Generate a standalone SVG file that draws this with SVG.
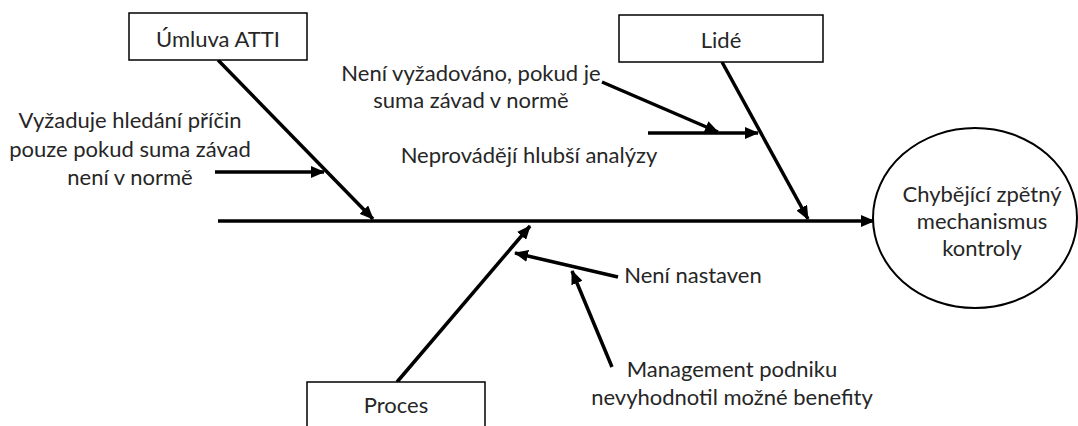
<svg xmlns="http://www.w3.org/2000/svg" width="1078" height="426" viewBox="0 0 1078 426">
<defs>
<style>
text{font-family:Lato,"Liberation Sans",sans-serif;font-size:22px;fill:#262626;text-anchor:middle}
.box{fill:#fff;stroke:#000;stroke-width:1.5}
.ln{stroke:#000;stroke-width:3.5;fill:none;marker-end:url(#ah)}
</style>
<marker id="ah" markerUnits="userSpaceOnUse" markerWidth="14" markerHeight="12" refX="13" refY="6" orient="auto">
<path d="M0,0 L14,6 L0,12 Z" fill="#000"/>
</marker>
</defs>
<rect width="1078" height="426" fill="#fff"/>
<g id="connectors">
<line class="ln" x1="218" y1="221" x2="874" y2="221"/>
<line class="ln" x1="218" y1="60" x2="373" y2="219"/>
<line class="ln" x1="722" y1="62" x2="808" y2="219"/>
<line class="ln" x1="397" y1="382" x2="530" y2="226"/>
<line class="ln" x1="215" y1="172" x2="324" y2="172"/>
<line class="ln" x1="602" y1="82" x2="718" y2="132"/>
<line class="ln" x1="648" y1="133" x2="758" y2="133"/>
<line class="ln" x1="618" y1="277" x2="515" y2="253"/>
<line class="ln" x1="612" y1="367" x2="572" y2="271"/>
</g>
<g id="umluva">
<rect class="box" x="129" y="13" width="178" height="47"/>
<text x="218" y="47">Úmluva ATTI</text>
</g>
<g id="lide">
<rect class="box" x="619" y="15" width="204" height="47"/>
<text x="721" y="48">Lidé</text>
</g>
<g id="proces">
<rect class="box" x="307" y="382" width="178" height="50"/>
<text x="396" y="413">Proces</text>
</g>
<g id="effect">
<ellipse cx="975" cy="218" rx="102" ry="90" fill="#fff" stroke="#000" stroke-width="2"/>
<text x="982" y="202">Chybějící zpětný</text>
<text x="982" y="229">mechanismus</text>
<text x="982" y="256">kontroly</text>
</g>
<g id="cause-vyzaduje">
<text x="130" y="128">Vyžaduje hledání příčin</text>
<text x="130" y="157">pouze pokud suma závad</text>
<text x="130" y="185">není v normě</text>
</g>
<g id="cause-neni-vyzadovano">
<text x="471" y="81">Není vyžadováno, pokud je</text>
<text x="471" y="108">suma závad v normě</text>
</g>
<g id="cause-neprovadeji">
<text x="529" y="163">Neprovádějí hlubší analýzy</text>
</g>
<g id="cause-neni-nastaven">
<text x="693" y="283">Není nastaven</text>
</g>
<g id="cause-management">
<text x="732" y="377">Management podniku</text>
<text x="732" y="405">nevyhodnotil možné benefity</text>
</g>
</svg>
